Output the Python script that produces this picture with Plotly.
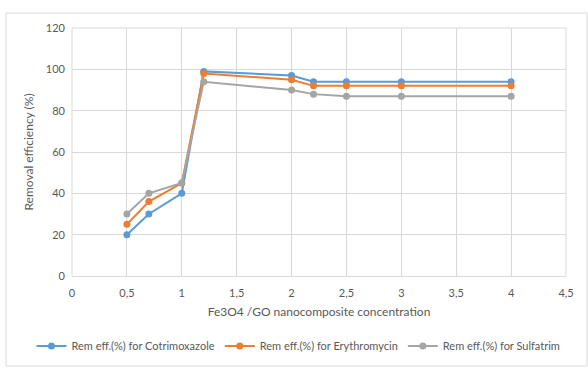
import plotly.graph_objects as go

conc = [0.5, 0.7, 1, 1.2, 2, 2.2, 2.5, 3, 4]
cotrimoxazole = [20, 30, 40, 99, 97, 94, 94, 94, 94]
erythromycin = [25, 36, 45, 98, 95, 92, 92, 92, 92]
sulfatrim = [30, 40, 45, 94, 90, 88, 87, 87, 87]

names = ["Rem eff.(%) for Cotrimoxazole", "Rem eff.(%) for Erythromycin", "Rem eff.(%) for Sulfatrim"]
colors = ["#5b9bd5", "#ed7d31", "#a5a5a5"]
series = [cotrimoxazole, erythromycin, sulfatrim]

fig = go.Figure()
for n, c, s in zip(names, colors, series):
    fig.add_trace(go.Scatter(x=conc, y=s, mode="lines+markers", name=n,
                             line=dict(color=c, width=2),
                             marker=dict(color=c, size=7)))

font = dict(family="Lato, Liberation Sans, sans-serif", size=11, color="#595959")
title_font = dict(family="Lato, Liberation Sans, sans-serif", size=12, color="#595959")
fig.update_layout(
    width=588, height=369,
    margin=dict(l=72, r=22, t=28, b=93, autoexpand=False),
    paper_bgcolor="white", plot_bgcolor="white",
    font=font,
    showlegend=True,
    legend=dict(orientation="h", x=-0.082, xanchor="left", y=-0.282, yanchor="middle",
                font=dict(size=11, color="#595959"), itemwidth=30,
                tracegroupgap=0),
    xaxis=dict(range=[0, 4.5], showgrid=True, automargin=False,
               gridcolor="#d9d9d9", gridwidth=1, zeroline=False,
               showline=True, linecolor="#d9d9d9", mirror=False,
               ticks="", ticklabelstandoff=7,
               title=dict(text="Fe3O4 /GO nanocomposite concentration", standoff=9,
                          font=title_font),
               tickvals=[0, 0.5, 1, 1.5, 2, 2.5, 3, 3.5, 4, 4.5],
               ticktext=["0", "0,5", "1", "1,5", "2", "2,5", "3", "3,5", "4", "4,5"]),
    yaxis=dict(range=[0, 120], dtick=20, showgrid=True, gridcolor="#d9d9d9",
               zeroline=False, showline=False, ticks="", automargin=False,
               ticklabelstandoff=6,
               title=dict(text="Removal efficiency (%)", standoff=9, font=title_font)),
    shapes=[dict(type="rect", xref="paper", yref="paper", x0=-0.1336, x1=1.0425,
                 y0=-0.363, y1=1.0605, line=dict(color="#d9d9d9", width=1)),
            dict(type="line", xref="paper", yref="paper", x0=1, x1=1, y0=0, y1=1,
                 line=dict(color="#d9d9d9", width=1)),
            dict(type="line", xref="paper", yref="paper", x0=0, x1=1, y0=1, y1=1,
                 line=dict(color="#d9d9d9", width=1)),
            dict(type="line", xref="paper", yref="paper", x0=0, x1=0, y0=0, y1=1,
                 line=dict(color="#d9d9d9", width=1))],
)
fig.write_html("out.html", config={"displayModeBar": False},
               post_script="document.body.style.margin='0';")
